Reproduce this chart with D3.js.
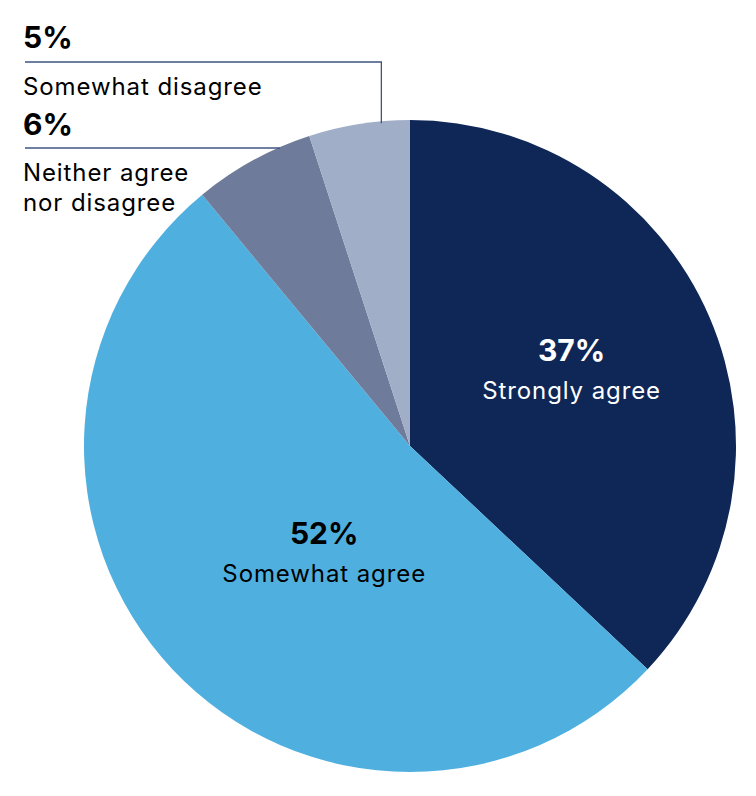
<!DOCTYPE html>
<meta charset="utf-8">
<title>Agreement pie</title>
<style>

body {
  margin: 0;
  background: #fff;
}

text {
  font-family: Inter, "Noto Sans", sans-serif;
}

</style>
<body>
<script src="https://cdn.jsdelivr.net/npm/d3@7"></script>
<script>
var w = 756,
    h = 796,
    r = 326,
    cx = 410,
    cy = 446;

// order goes clockwise from 12 o'clock
var categories = ["Strongly agree", "Somewhat agree", "Neither agree\nnor disagree", "Somewhat disagree"],
    values = [37, 52, 6, 5],
    colors = ["#0e2757", "#4fb0e0", "#6e7b9a", "#a0aec7"];

var svg = d3.select("body").append("svg")
    .attr("width", w)
    .attr("height", h);

var pie = d3.pie().sort(null).value(function(d) { return d; });
var arcs = pie(values);

var arc = d3.arc().innerRadius(0).outerRadius(r);

var g = svg.append("g")
    .attr("transform", "translate(" + cx + "," + cy + ")");

g.selectAll("path")
    .data(arcs)
  .enter().append("path")
    .attr("d", arc)
    .style("fill", function(d, i) { return colors[i]; });

// labels inside the two big slices
var inside = [{i: 0, dx: 12, dy: -1, fill: "#fff"}, {i: 1, dx: 33, dy: 5, fill: "#000"}];

inside.forEach(function(o) {
  var c = arc.centroid(arcs[o.i]);
  var t = g.append("text")
      .attr("text-anchor", "middle")
      .attr("transform", "translate(" + (c[0] + o.dx) + "," + (c[1] + o.dy) + ")")
      .style("fill", o.fill);
  t.append("tspan")
      .attr("x", 0).attr("y", -19)
      .style("font-size", "30px").style("font-weight", 700)
      .text(values[o.i] + "%");
  t.append("tspan")
      .attr("x", 0).attr("y", 19)
      .style("font-size", "24px")
      .style("letter-spacing", "0.9px")
      .text(categories[o.i]);
});

// small slices get labels in the top-left corner with leader lines
var outside = [{i: 3, y: 48, line: 62}, {i: 2, y: 135, line: 148}];
var left = 23;

outside.forEach(function(o) {
  var t = svg.append("text")
      .attr("x", left)
      .style("fill", "#000");
  t.append("tspan")
      .attr("x", left).attr("y", o.y)
      .style("font-size", "30px").style("font-weight", 700)
      .text(values[o.i] + "%");
  categories[o.i].split("\n").forEach(function(line, k) {
    t.append("tspan")
        .attr("x", left).attr("y", o.line + 33 + k * 30)
        .style("font-size", "24px")
        .style("letter-spacing", "0.9px")
        .text(line);
  });
});

// leader for 5%: across then down onto the slice
var a5 = arcs[3],
    xEnd = cx + r * Math.sin(a5.startAngle + (a5.endAngle - a5.startAngle) * 0.72),
    yHit = cy - Math.sqrt(r * r - (xEnd - cx) * (xEnd - cx));
svg.append("path")
    .attr("d", "M" + (left + 2) + "," + outside[0].line + "H" + xEnd + "V" + (yHit + 2))
    .style("fill", "none")
    .style("stroke", "#3e5580")
    .style("stroke-width", 1.3);

// leader for 6%: straight across until it meets the pie edge
var y6 = outside[1].line,
    x6 = cx - Math.sqrt(r * r - (cy - y6) * (cy - y6));
svg.append("line")
    .attr("x1", left + 2).attr("x2", x6 + 2)
    .attr("y1", y6).attr("y2", y6)
    .style("stroke", "#3e5580")
    .style("stroke-width", 1.3);
</script>
